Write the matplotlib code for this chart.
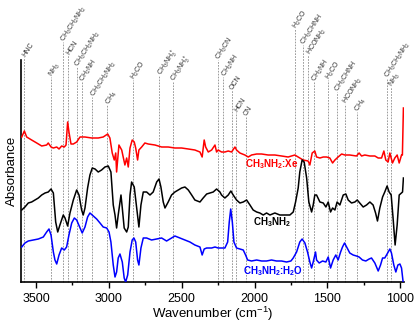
import matplotlib
matplotlib.use('Agg')
import matplotlib.pyplot as plt
from matplotlib.ticker import MultipleLocator
import matplotlib.transforms as mtransforms

plt.rcParams['font.family'] = ['Liberation Sans', 'DejaVu Sans']
plt.rcParams['mathtext.default'] = 'regular'

# CH3NH2:Xe spectrum (red)
xe_wn = [3598, 3580, 3564, 3530, 3495, 3461, 3427, 3416, 3397, 3381, 3358, 3342, 3324, 3306, 3294,
         3283, 3274, 3260, 3244, 3221, 3198, 3164, 3118, 3073, 3039, 3008, 2993, 2977, 2963, 2953,
         2947, 2931, 2912, 2890, 2878, 2867, 2855, 2840, 2826, 2816, 2803, 2794, 2775, 2753, 2730,
         2684, 2638, 2593, 2547, 2501, 2455, 2410, 2375, 2360, 2346, 2336, 2318, 2295, 2272, 2261,
         2250, 2227, 2204, 2181, 2158, 2135, 2124, 2101, 2067, 2044, 2021, 1986, 1952, 1907, 1861,
         1815, 1770, 1724, 1690, 1667, 1633, 1621, 1605, 1587, 1575, 1552, 1529, 1506, 1484, 1465,
         1449, 1427, 1403, 1381, 1347, 1301, 1283, 1266, 1244, 1209, 1175, 1152, 1129, 1113, 1100,
         1084, 1072, 1054, 1038, 1022, 1008, 992, 986, 979]
xe_abs = [1.45, 1.51, 1.45, 1.42, 1.39, 1.36, 1.37, 1.39, 1.35, 1.34, 1.35, 1.33, 1.36, 1.35, 1.37,
          1.60, 1.50, 1.38, 1.38, 1.40, 1.45, 1.45, 1.44, 1.44, 1.45, 1.48, 1.44, 1.29, 1.22, 1.29,
          1.10, 1.37, 1.32, 1.17, 1.24, 1.15, 1.34, 1.42, 1.40, 1.34, 1.22, 1.32, 1.35, 1.39, 1.38,
          1.37, 1.35, 1.35, 1.34, 1.34, 1.33, 1.32, 1.30, 1.25, 1.42, 1.35, 1.30, 1.32, 1.37, 1.30,
          1.32, 1.30, 1.30, 1.31, 1.30, 1.35, 1.32, 1.29, 1.27, 1.25, 1.27, 1.28, 1.28, 1.27, 1.27,
          1.26, 1.25, 1.27, 1.24, 1.22, 1.21, 1.17, 1.29, 1.31, 1.25, 1.24, 1.25, 1.25, 1.24, 1.19,
          1.22, 1.25, 1.28, 1.27, 1.27, 1.26, 1.29, 1.26, 1.27, 1.26, 1.26, 1.24, 1.24, 1.31, 1.22,
          1.20, 1.29, 1.19, 1.24, 1.27, 1.19, 1.27, 1.27, 1.74]

# pure CH3NH2 spectrum (black)
pure_wn = [3598, 3576, 3553, 3530, 3507, 3484, 3461, 3438, 3416, 3397, 3381, 3365, 3351, 3336, 3313,
           3301, 3283, 3267, 3244, 3221, 3205, 3187, 3176, 3164, 3146, 3130, 3114, 3095, 3073, 3050,
           3027, 3004, 2986, 2970, 2958, 2947, 2936, 2917, 2908, 2895, 2878, 2867, 2855, 2844, 2826,
           2809, 2794, 2780, 2764, 2741, 2718, 2696, 2672, 2656, 2643, 2627, 2615, 2593, 2570, 2547,
           2524, 2501, 2478, 2455, 2432, 2410, 2375, 2353, 2329, 2307, 2284, 2261, 2238, 2227, 2204,
           2181, 2163, 2147, 2124, 2101, 2078, 2055, 2032, 2010, 1986, 1964, 1941, 1918, 1895, 1861,
           1827, 1792, 1758, 1735, 1719, 1701, 1690, 1674, 1660, 1643, 1628, 1609, 1598, 1587, 1575,
           1552, 1529, 1511, 1495, 1479, 1465, 1449, 1434, 1415, 1392, 1374, 1358, 1335, 1312, 1296,
           1278, 1255, 1232, 1209, 1187, 1170, 1157, 1141, 1122, 1107, 1091, 1077, 1063, 1050, 1036,
           1022, 1008, 992, 985, 979]
pure_abs = [0.72, 0.75, 0.79, 0.80, 0.82, 0.84, 0.87, 0.89, 0.90, 0.93, 0.89, 0.60, 0.50, 0.57, 0.67,
            0.64, 0.56, 0.69, 0.82, 0.92, 0.87, 0.72, 0.67, 0.74, 0.94, 1.07, 1.14, 1.13, 1.10, 1.12,
            1.15, 1.16, 1.10, 0.77, 0.67, 0.54, 0.67, 0.87, 0.74, 0.54, 0.50, 0.55, 0.87, 1.00, 0.95,
            0.74, 0.55, 0.77, 0.90, 0.90, 0.87, 0.90, 1.00, 1.03, 0.95, 0.80, 0.74, 0.80, 0.87, 0.90,
            0.92, 0.94, 0.95, 0.92, 0.87, 0.82, 0.80, 0.84, 0.88, 0.89, 0.90, 0.93, 0.90, 0.87, 0.84,
            0.87, 0.91, 0.87, 0.82, 0.79, 0.80, 0.82, 0.77, 0.72, 0.70, 0.69, 0.67, 0.69, 0.67, 0.69,
            0.67, 0.67, 0.67, 0.70, 0.80, 0.94, 1.10, 1.22, 1.20, 1.04, 0.80, 0.70, 0.77, 0.87, 0.87,
            0.80, 0.79, 0.75, 0.80, 0.70, 0.74, 0.72, 0.80, 0.77, 0.87, 0.88, 0.82, 0.79, 0.80, 0.82,
            0.79, 0.75, 0.77, 0.80, 0.77, 0.69, 0.61, 0.74, 0.85, 0.90, 0.96, 0.90, 0.87, 0.64, 0.37,
            0.57, 0.87, 0.89, 0.90, 1.04]

# CH3NH2:H2O spectrum (blue)
h2o_wn = [3598, 3576, 3553, 3519, 3484, 3450, 3427, 3411, 3397, 3381, 3370, 3358, 3342, 3324, 3306,
          3290, 3274, 3255, 3237, 3221, 3198, 3183, 3164, 3146, 3130, 3107, 3084, 3061, 3039, 3015,
          2999, 2986, 2970, 2958, 2947, 2936, 2924, 2908, 2895, 2885, 2871, 2855, 2840, 2828, 2816,
          2803, 2794, 2780, 2764, 2741, 2707, 2672, 2638, 2604, 2570, 2547, 2513, 2478, 2444, 2410,
          2375, 2360, 2346, 2329, 2295, 2272, 2250, 2227, 2204, 2185, 2174, 2164, 2153, 2142, 2124,
          2101, 2078, 2062, 2048, 2021, 1986, 1952, 1918, 1884, 1850, 1815, 1781, 1751, 1735, 1712,
          1690, 1674, 1655, 1637, 1621, 1609, 1598, 1582, 1575, 1557, 1534, 1511, 1495, 1479, 1461,
          1443, 1427, 1410, 1397, 1383, 1365, 1347, 1324, 1301, 1283, 1260, 1237, 1214, 1198, 1175,
          1152, 1136, 1122, 1107, 1091, 1072, 1061, 1045, 1031, 1017, 1003, 992, 981]
h2o_abs = [0.35, 0.39, 0.41, 0.42, 0.43, 0.45, 0.50, 0.53, 0.47, 0.30, 0.22, 0.18, 0.27, 0.34, 0.32,
           0.35, 0.47, 0.59, 0.64, 0.62, 0.54, 0.49, 0.55, 0.65, 0.69, 0.66, 0.63, 0.59, 0.55, 0.54,
           0.50, 0.40, 0.17, 0.05, 0.10, 0.24, 0.28, 0.20, 0.04, 0.00, 0.07, 0.30, 0.42, 0.44, 0.40,
           0.22, 0.17, 0.34, 0.44, 0.44, 0.42, 0.43, 0.44, 0.41, 0.44, 0.46, 0.44, 0.42, 0.40, 0.37,
           0.35, 0.27, 0.33, 0.34, 0.34, 0.35, 0.34, 0.34, 0.34, 0.40, 0.60, 0.73, 0.60, 0.40, 0.34,
           0.33, 0.32, 0.27, 0.22, 0.21, 0.22, 0.21, 0.21, 0.22, 0.21, 0.21, 0.20, 0.21, 0.24, 0.30,
           0.40, 0.43, 0.39, 0.30, 0.20, 0.14, 0.20, 0.30, 0.22, 0.19, 0.21, 0.20, 0.25, 0.14, 0.22,
           0.27, 0.22, 0.30, 0.35, 0.39, 0.34, 0.29, 0.27, 0.26, 0.25, 0.22, 0.21, 0.23, 0.24, 0.19,
           0.11, 0.17, 0.24, 0.24, 0.28, 0.33, 0.29, 0.17, 0.10, 0.17, 0.18, 0.14, 0.00]

# band assignments
band_labels = ['HNC', 'NH$_3$', 'CH$_3$CH$_2$NH$_2$', 'HCN', 'CH$_3$CH$_2$NH$_2$', 'CH$_2$NH',
               'CH$_3$CH$_2$NH$_2$', 'CH$_4$', 'H$_2$CO', 'CH$_3$NH$_3^+$', 'CH$_3$NH$_3^+$',
               'CH$_3$CN', 'CH$_2$NH', 'OCN', 'HCN', 'CN', 'H$_2$CO', 'CH$_3$CHNH', 'HCONH$_2$',
               'CH$_2$NH', 'H$_2$CO', 'CH$_3$CHNH', 'HCONH$_2$', 'CH$_4$', 'CH$_3$CH$_2$NH$_2$', 'NH$_3$']
band_wn = [3580, 3397, 3317, 3279, 3221, 3187, 3114, 3010, 2833, 2653, 2558,
           2250, 2215, 2158, 2130, 2062, 1726, 1667, 1632, 1593, 1495, 1434, 1381, 1296, 1093, 1067]
# how far each marker line reaches above the plot (pixels from top of image)
line_top_px = [57, 77, 42, 55, 67, 82, 97, 105, 80, 76, 82,
               60, 77, 90, 112, 116, 29, 45, 55, 82, 80, 92, 104, 112, 78, 87]

fig = plt.figure(figsize=(4.15, 3.27), dpi=100)
ax = fig.add_axes([21/415, 45/327, 383/415, 222/327])

trans = mtransforms.blended_transform_factory(ax.transData, ax.transAxes)
for wn, lab, top in zip(band_wn, band_labels, line_top_px):
    frac = (282 - top) / 222
    ax.plot([wn, wn], [0, frac], transform=trans, color='#8a8a8a', lw=0.6,
            ls=(0, (2, 1.5)), clip_on=False, zorder=1)
    ax.text(wn, frac + 0.005, lab, transform=trans, rotation=57, rotation_mode='anchor',
            ha='left', va='center', fontsize=5, color='#333333')

ax.plot(xe_wn, xe_abs, color='#ff0000', lw=1.1, zorder=3)
ax.plot(pure_wn, pure_abs, color='black', lw=1.1, zorder=3)
ax.plot(h2o_wn, h2o_abs, color='#0000ff', lw=1.1, zorder=3)

ax.text(1884, 1.18, 'CH$_3$NH$_2$:Xe', color='#ff0000', fontsize=7, fontweight='bold', ha='center', va='center')
ax.text(1878, 0.595, 'CH$_3$NH$_2$', color='black', fontsize=7, fontweight='bold', ha='center', va='center')
ax.text(1876, 0.11, 'CH$_3$NH$_2$:H$_2$O', color='#0000ff', fontsize=7, fontweight='bold', ha='center', va='center')

ax.set_xlim(3603, 975)
ax.set_ylim(0, 2.22)
ax.spines['top'].set_visible(False)
ax.spines['right'].set_visible(False)
ax.spines['left'].set_linewidth(1.2)
ax.spines['bottom'].set_linewidth(1.2)
ax.set_yticks([])
ax.xaxis.set_major_locator(MultipleLocator(500))
ax.xaxis.set_minor_locator(MultipleLocator(250))
ax.tick_params(axis='x', which='major', direction='out', length=4, width=1, labelsize=9, pad=4)
ax.tick_params(axis='x', which='minor', direction='out', length=2.5, width=1)
ax.set_xlabel('Wavenumber (cm$^{-1}$)', fontsize=9.5, labelpad=0)
ax.set_ylabel('Absorbance', fontsize=9.5, labelpad=2)

fig.savefig('out.png', dpi=100)
